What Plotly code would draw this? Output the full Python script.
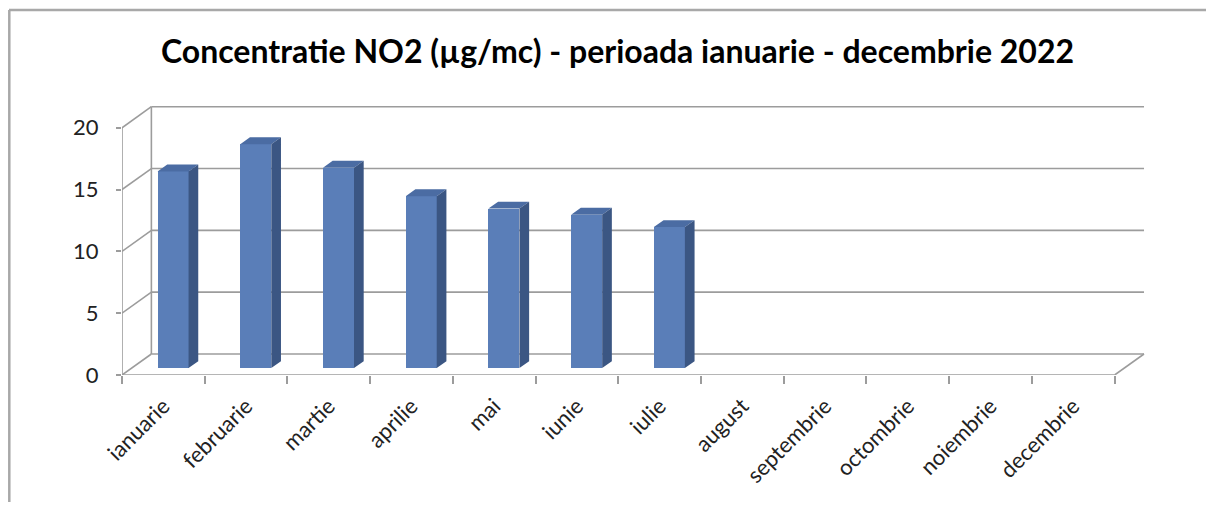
import plotly.graph_objects as go

# ---------------- data ----------------
months = ["ianuarie", "februarie", "martie", "aprilie", "mai", "iunie",
          "iulie", "august", "septembrie", "octombrie", "noiembrie", "decembrie"]
no2_values = [15.9, 18.1, 16.2, 13.9, 12.9, 12.4, 11.4, None, None, None, None, None]
y_ticks = [0, 5, 10, 15, 20]
title_text = "Concentratie NO2 (µg/mc) - perioada ianuarie - decembrie 2022"

# ---------------- layout geometry ----------------
OFF = 8                       # default page body margin (each side)
W, H = 1214 - 2 * OFF, 510 - 2 * OFF
PW, PH = 1034, 272
ML, MT = 122 - OFF, 103 - OFF
MR, MB = W - ML - PW, H - MT - PH
X_MAX, Y_MAX = 12.5, 22.0
DX, DY = 0.355, 1.7          # depth offset of the 3D box (axis units)
F0, F1 = 0.33, 0.66          # bar front/back depth fractions
BAR_W = 0.375
GRID = "#9C9C9C"
FRONT, TOP, SIDE = "#5A7EB8", "#4B6CA3", "#3B5683"
FONT = "Lato, Calibri, Carlito, sans-serif"

n = len(months)
centers = [i + 0.5 for i in range(n)]

def px_x(p):
    return (p - OFF - ML) / PW

def px_y(p):
    return (H - MB - (p - OFF)) / PH

fig = go.Figure()

# front faces
bx = [c + F0 * DX for c in centers]
base = F0 * DY
fig.add_trace(go.Bar(
    x=bx, y=no2_values, base=base, width=BAR_W,
    marker=dict(color=FRONT, line=dict(width=0)),
    hoverinfo="skip", showlegend=False))

# top and side faces
ddx, ddy = (F1 - F0) * DX, (F1 - F0) * DY
tx, ty, sx, sy = [], [], [], []
for c, v in zip(bx, no2_values):
    if v is None:
        continue
    x0, x1 = c - BAR_W / 2, c + BAR_W / 2
    t = base + v
    tx += [x0, x1, x1 + ddx, x0 + ddx, x0, None]
    ty += [t, t, t + ddy, t + ddy, t, None]
    sx += [x1, x1 + ddx, x1 + ddx, x1, x1, None]
    sy += [base, base + ddy, t + ddy, t, base, None]
fig.add_trace(go.Scatter(x=tx, y=ty, fill="toself", fillcolor=TOP, mode="lines",
                         line=dict(width=0, color=TOP), hoverinfo="skip", showlegend=False))
fig.add_trace(go.Scatter(x=sx, y=sy, fill="toself", fillcolor=SIDE, mode="lines",
                         line=dict(width=0, color=SIDE), hoverinfo="skip", showlegend=False))

shapes = []
gl = dict(color=GRID, width=1.6)
for v in y_ticks:
    # back wall gridline
    shapes.append(dict(type="line", xref="x", yref="y", x0=DX, x1=n + DX,
                       y0=v + DY, y1=v + DY, line=gl, layer="below"))
    # side wall diagonal
    shapes.append(dict(type="line", xref="x", yref="y", x0=0, x1=DX,
                       y0=v, y1=v + DY, line=gl, layer="below"))
# back-left vertical edge
shapes.append(dict(type="line", xref="x", yref="y", x0=DX, x1=DX,
                   y0=DY, y1=y_ticks[-1] + DY, line=gl, layer="below"))
# front vertical axis
shapes.append(dict(type="line", xref="x", yref="y", x0=0, x1=0,
                   y0=0, y1=y_ticks[-1], line=gl, layer="below"))
# floor front edge and right edge
shapes.append(dict(type="line", xref="x", yref="y", x0=0, x1=n,
                   y0=0, y1=0, line=gl, layer="below"))
shapes.append(dict(type="line", xref="x", yref="y", x0=n, x1=n + DX,
                   y0=0, y1=DY, line=gl, layer="below"))
# chart border (top and left)
bcol = dict(color="#A8A8A8", width=2.5)
shapes.append(dict(type="line", xref="paper", yref="paper",
                   x0=px_x(9), x1=px_x(W + OFF), y0=px_y(10), y1=px_y(10), line=bcol))
shapes.append(dict(type="line", xref="paper", yref="paper",
                   x0=px_x(9.3), x1=px_x(9.3), y0=px_y(10), y1=px_y(H + OFF), line=bcol))

fig.update_layout(
    width=W, height=H,
    margin=dict(l=ML, r=MR, t=MT, b=MB, autoexpand=False),
    paper_bgcolor="white", plot_bgcolor="white",
    bargap=0,
    title=dict(text=title_text, x=(617.5 - OFF) / W, xref="container", xanchor="center",
               y=1 - (52 - OFF) / H, yref="container", yanchor="middle",
               font=dict(family=FONT, size=32, color="black", weight="bold")),
    xaxis=dict(range=[0, X_MAX], tickmode="array", tickvals=centers, ticktext=months,
               tickangle=-45, ticks="", showgrid=False, zeroline=False, showline=False,
               ticklabelstandoff=13,
               tickfont=dict(family=FONT, size=22, color="#222222"),
               minor=dict(tickmode="array", tickvals=list(range(n + 1)), ticks="outside",
                          ticklen=8, tickcolor=GRID, tickwidth=1.6, showgrid=False)),
    yaxis=dict(range=[0, Y_MAX], tickmode="array", tickvals=y_ticks,
               ticks="outside", ticklen=5, tickcolor=GRID, tickwidth=1.6,
               ticklabelstandoff=13,
               showgrid=False, zeroline=False, showline=False,
               tickfont=dict(family=FONT, size=22, color="#222222")),
    shapes=shapes,
)

fig.write_html("out.html", config={"displayModeBar": False})
